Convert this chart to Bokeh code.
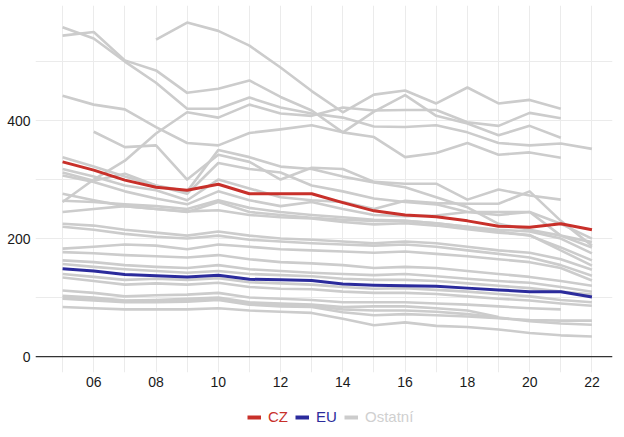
from bokeh.plotting import figure
from bokeh.models import FixedTicker, Span, Legend, LegendItem, Range1d
from bokeh.layouts import column
from bokeh.embed import file_html
from bokeh.resources import INLINE

N = None
years = list(range(2005, 2023))
x_tick_years = [2006, 2008, 2010, 2012, 2014, 2016, 2018, 2020, 2022]
x_tick_labels = ["06", "08", "10", "12", "14", "16", "18", "20", "22"]
y_ticks = [0, 200, 400]
y_tick_labels = ["0", "200", "400"]
legend_labels = ["CZ", "EU", "Ostatní"]

cz = [330, 316, 299, 287, 282, 292, 276, 276, 276, 261, 247, 240, 237, 230, 221, 219, 225, 215]
eu = [149, 145, 139, 137, 135, 138, 131, 130, 129, 123, 121, 120, 119, 116, 113, 110, 110, 101]

g01 = [N, N, N, 537, 566, 552, 527, 490, 450, 414, 444, 451, 429, 456, 429, 435, 420, N]
g02 = [544, 550, 502, 485, 447, 454, 468, 440, 417, 380, 415, 443, 408, 395, 375, 391, 371, N]
g03 = [558, 539, 500, 464, 420, 420, 439, 422, 412, 405, 390, 389, 392, 380, 362, 358, 361, 352]
g04 = [262, 300, 332, 378, 414, 405, 427, 412, 408, 422, 417, 418, 418, 397, 391, 413, 404, N]
g05 = [442, 427, 419, 389, 362, 358, 379, 385, 392, 380, 372, 338, 345, 362, 342, 346, 337, N]
g06 = [N, 381, 355, 358, 300, 342, 330, 300, 320, 318, 296, 293, 293, 266, 283, 273, 266, N]
g07 = [338, 322, 305, 290, 280, 350, 338, 322, 318, 305, 295, 287, 270, 253, 225, 215, 205, 194]
g08 = [318, 305, 290, 282, 265, 300, 285, 270, 265, 262, 250, 264, 260, 259, 259, 280, 230, 188]
g09 = [312, 298, 310, 290, 276, 328, 318, 312, 290, 280, 268, 262, 258, 245, 240, 245, 225, 200]
g10 = [307, 296, 280, 268, 258, 280, 265, 255, 262, 250, 240, 238, 239, 245, 245, 245, 205, 185]
g11 = [276, 265, 255, 250, 245, 262, 245, 240, 235, 232, 230, 230, 226, 220, 215, 212, 200, 175]
g12 = [264, 262, 258, 255, 250, 265, 252, 245, 240, 236, 232, 230, 226, 220, 212, 205, 185, 163]
g13 = [245, 250, 255, 250, 246, 248, 240, 236, 234, 228, 224, 226, 222, 216, 210, 206, 180, 154]
g14 = [225, 222, 215, 210, 205, 212, 205, 200, 198, 195, 192, 195, 192, 186, 180, 176, 165, 147]
g15 = [220, 215, 208, 203, 200, 205, 198, 195, 192, 190, 188, 190, 186, 180, 174, 168, 155, 137]
g16 = [183, 186, 190, 188, 182, 190, 186, 182, 180, 178, 176, 178, 174, 170, 165, 160, 150, 129]
g17 = [177, 175, 172, 170, 168, 172, 165, 160, 158, 155, 150, 152, 150, 145, 140, 135, 128, 120]
g18 = [163, 160, 155, 152, 150, 155, 148, 145, 142, 140, 138, 140, 136, 132, 128, 125, 118, 110]
g19 = [157, 152, 148, 145, 142, 145, 140, 138, 136, 132, 130, 130, 128, 124, 120, 116, 110, 105]
g20 = [140, 135, 130, 132, 130, 133, 126, 124, 122, 118, 115, 116, 113, 110, 106, 102, 96, 92]
g21 = [134, 128, 122, 124, 122, 125, 118, 115, 114, 110, 108, 108, 106, 102, 98, 95, 90, 86]
g22 = [112, 108, 102, 104, 105, 108, 100, 98, 96, 92, 92, 92, 90, 88, 85, 82, 80, N]
g23 = [103, 100, 95, 96, 98, 100, 92, 90, 88, 84, 85, 85, 82, 78, 67, N, N, N]
g24 = [98, 95, 92, 92, 93, 96, 88, 85, 84, 75, 70, 72, 70, 68, 65, 62, 61, 61]
g25 = [84, 82, 80, 80, 80, 82, 78, 76, 74, 64, 53, 58, 52, 50, 46, 40, 36, 34]
g26 = [100, 98, 94, 95, 96, 98, 90, 88, 86, 80, 78, 78, 76, 72, 66, 60, 56, 54]

others = [g01, g02, g03, g04, g05, g06, g07, g08, g09, g10, g11, g12, g13,
          g14, g15, g16, g17, g18, g19, g20, g21, g22, g23, g24, g25, g26]

RED = "#c8302a"
BLUE = "#2b2b9c"
GRAY = "#cccccc"
LEGEND_GRAY = "#d0d0d0"
FONT = "Liberation Sans"
W = 616

p = figure(width=W, height=395, output_backend="svg", toolbar_location=None,
           x_range=Range1d(2004.13, 2022.66), y_range=Range1d(-27, 595),
           min_border_left=35, min_border_right=4, min_border_top=5, min_border_bottom=23)
p.outline_line_color = None
p.background_fill_color = "white"
p.border_fill_color = "white"

p.xaxis.ticker = FixedTicker(ticks=x_tick_years, minor_ticks=[y for y in years if y not in x_tick_years])
p.xaxis.major_label_overrides = {t: l for t, l in zip(x_tick_years, x_tick_labels)}
p.yaxis.ticker = FixedTicker(ticks=y_ticks, minor_ticks=[100, 300, 500])
p.yaxis.major_label_overrides = {t: l for t, l in zip(y_ticks, y_tick_labels)}
for ax in (p.xaxis[0], p.yaxis[0]):
    ax.axis_line_color = None
    ax.major_tick_line_color = None
    ax.minor_tick_line_color = None
    ax.major_tick_out = 0
    ax.major_tick_in = 0
    ax.minor_tick_out = 0
    ax.minor_tick_in = 0
    ax.major_label_text_font = FONT
    ax.major_label_text_font_size = "14px"
    ax.major_label_text_color = "#1a1a1a"
p.xaxis.major_label_standoff = 4
p.yaxis.major_label_standoff = 5

grid_color = "#ebebeb"
p.xgrid.grid_line_color = grid_color
p.xgrid.minor_grid_line_color = grid_color
p.ygrid.grid_line_color = grid_color
p.ygrid.minor_grid_line_color = grid_color

for s in others:
    xs = [y for y, v in zip(years, s) if v is not None]
    vs = [v for v in s if v is not None]
    p.line(xs, vs, line_color=GRAY, line_width=2.6, line_join="round")

p.add_layout(Span(location=0, dimension="width", line_color="#333333", line_width=1.3))

p.line(years, eu, line_color=BLUE, line_width=3, line_join="round")
p.line(years, cz, line_color=RED, line_width=3, line_join="round")

# legend strip below the chart (frame is aligned with the chart frame, starting at x=35)
lp = figure(width=W, height=40, output_backend="svg", toolbar_location=None,
            x_range=Range1d(0, 1), y_range=Range1d(0, 1),
            min_border_left=0, min_border_right=0, min_border_top=0, min_border_bottom=0)
lp.axis.visible = False
lp.grid.visible = False
lp.outline_line_color = None
lp.border_fill_color = "white"
lp.background_fill_color = "white"

nan = float("nan")
legend_colors = [RED, BLUE, GRAY]
legend_text_colors = [RED, BLUE, LEGEND_GRAY]
legend_x = [212, 260, 309]
for lab, col, tcol, lx in zip(legend_labels, legend_colors, legend_text_colors, legend_x):
    r = lp.line(x=[nan, nan], y=[nan, nan], line_color=col, line_width=4)
    lg = Legend(items=[LegendItem(label=lab, renderers=[r])], location=(lx, 10),
                orientation="horizontal", padding=0, margin=0, spacing=0,
                glyph_width=14, glyph_height=16, label_standoff=7,
                label_text_font=FONT, label_text_font_size="15px",
                label_text_color=tcol, border_line_color=None,
                background_fill_alpha=0, label_height=16)
    lp.add_layout(lg, "center")

layout = column(p, lp, spacing=0)
open("out.html", "w").write(file_html(layout, INLINE))
